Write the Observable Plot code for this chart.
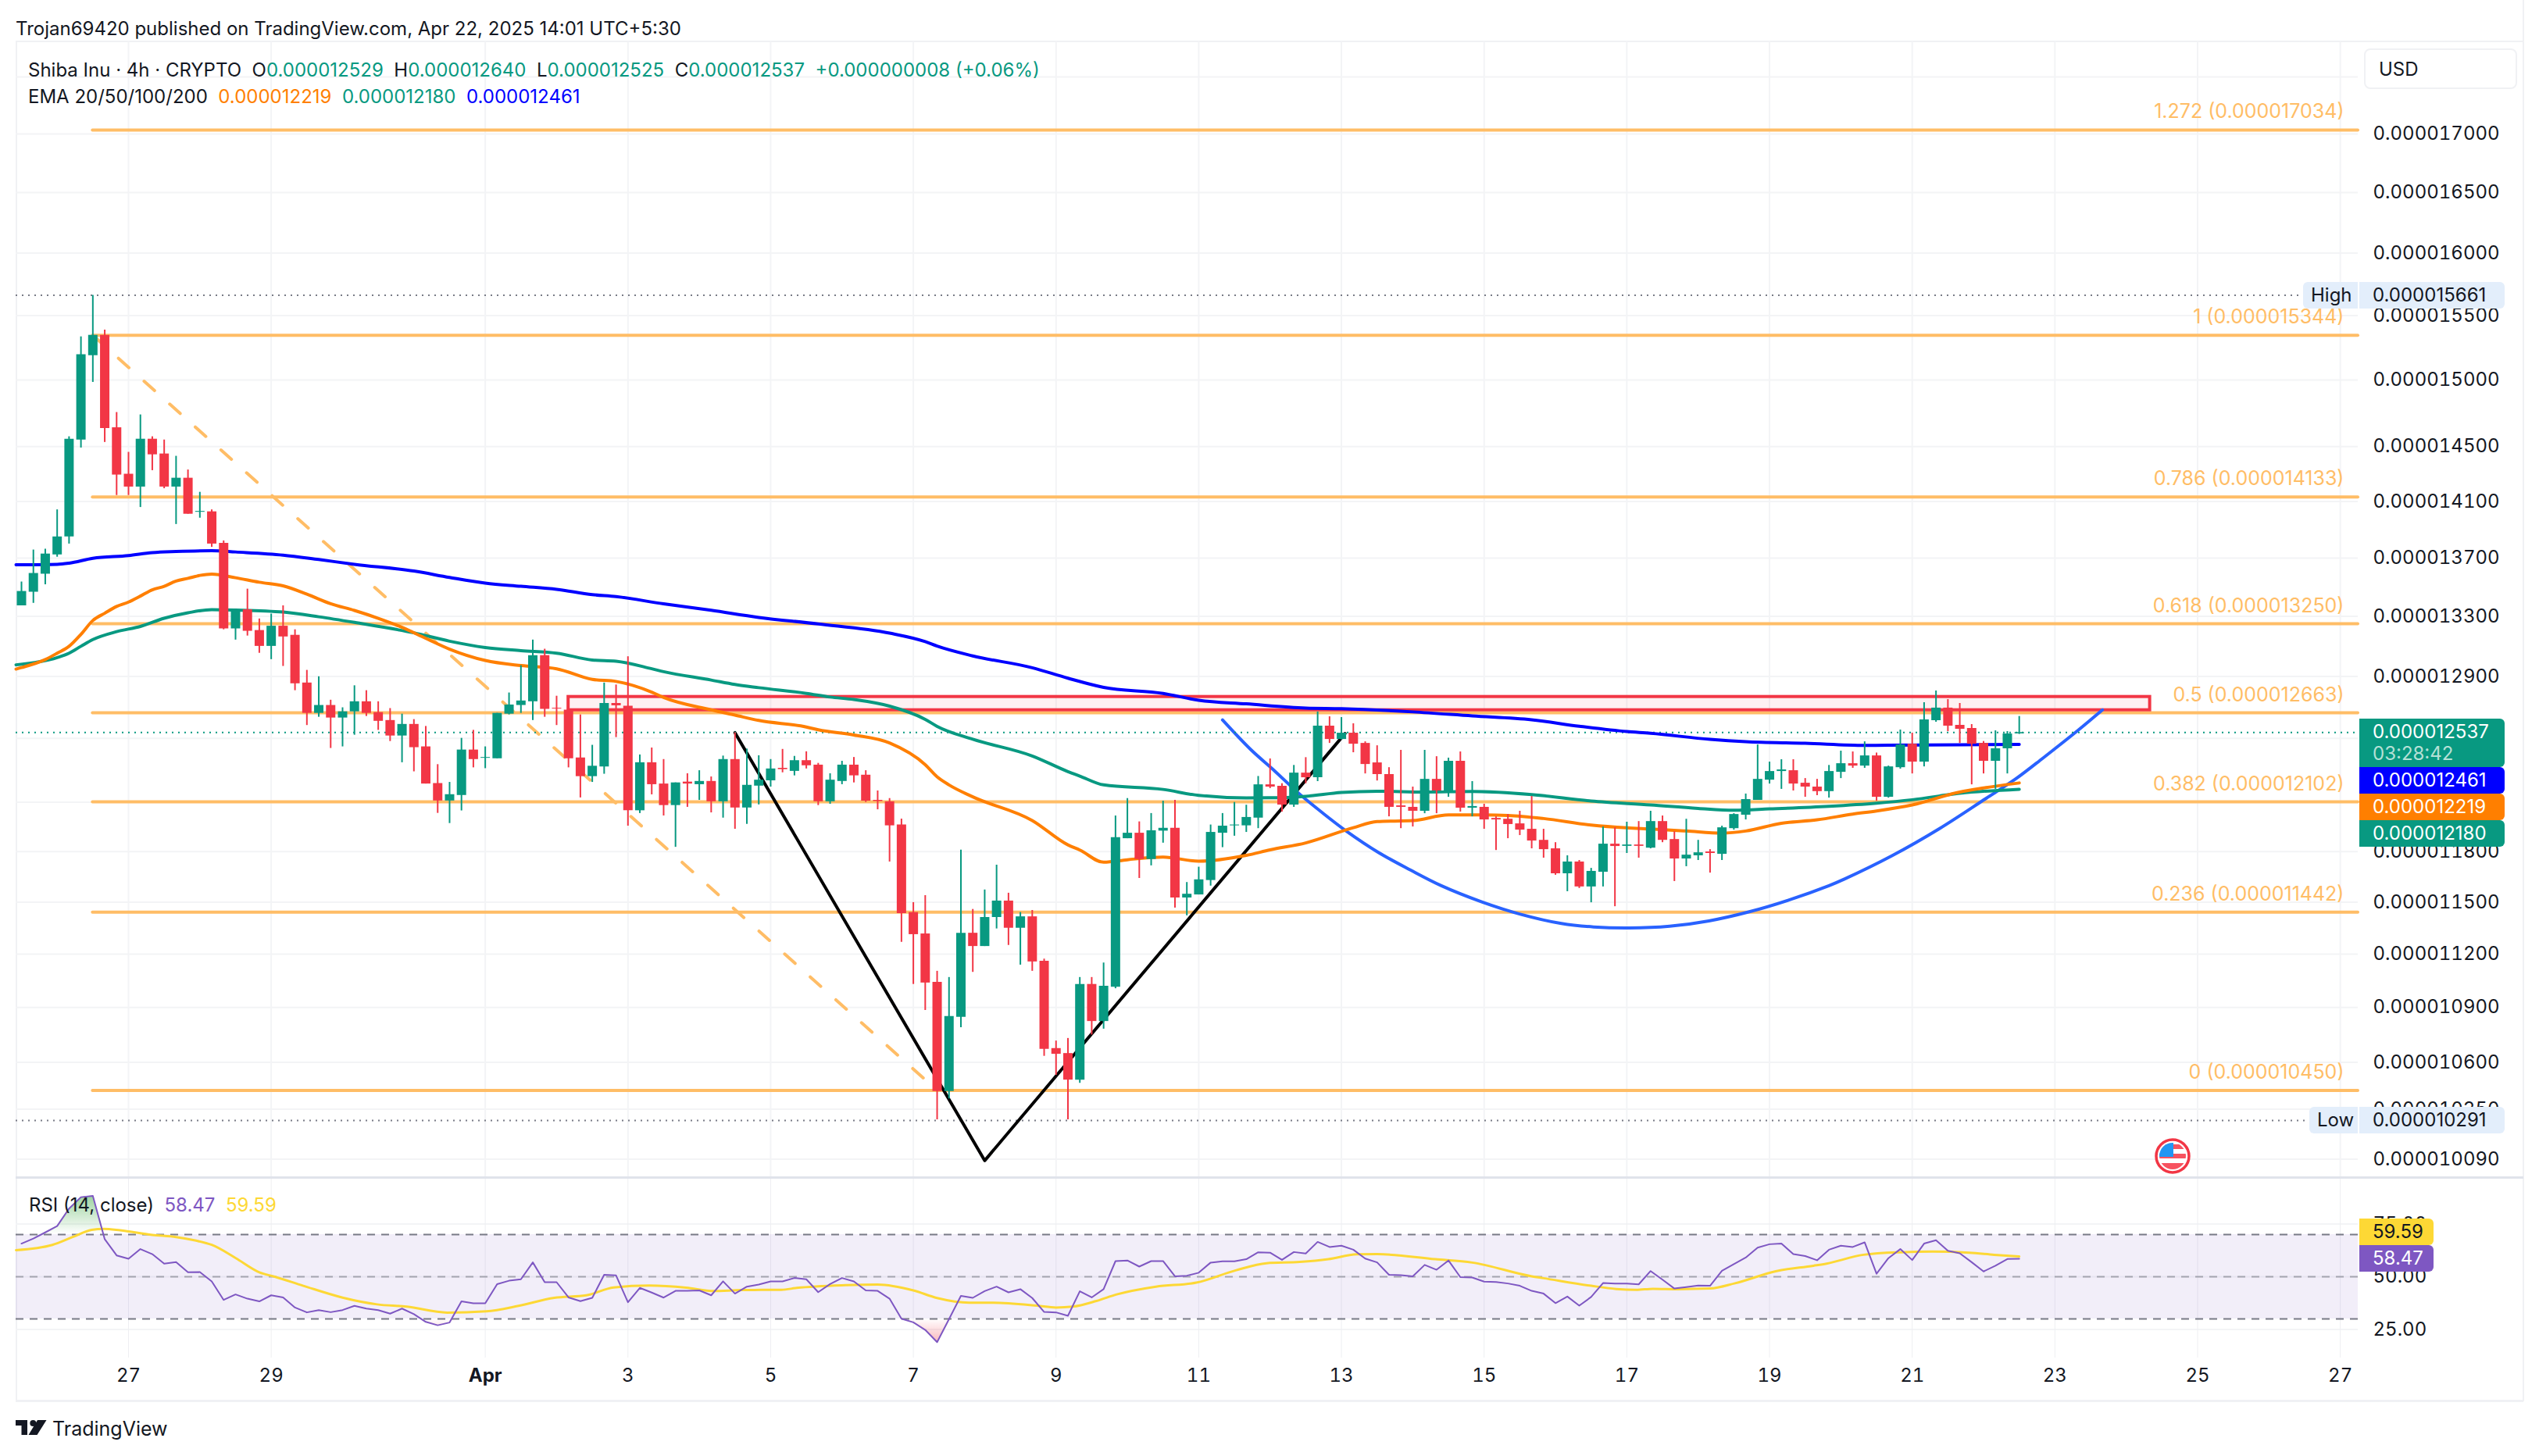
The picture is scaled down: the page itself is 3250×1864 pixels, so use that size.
<!DOCTYPE html>
<html>
<head>
<meta charset="utf-8">
<script src="https://cdn.jsdelivr.net/npm/d3@7"></script>
<script src="https://cdn.jsdelivr.net/npm/@observablehq/plot@0.6"></script>
<style>
  html, body { margin: 0; padding: 0; background: #fff; }
  #page { position: relative; width: 3250px; height: 1864px; overflow: hidden; font-family: Inter, sans-serif; color: #131722; }
  #page svg.plot-chart { position: absolute; left: 0; }
  .txt { position: absolute; font-size: 24px; line-height: 34px; white-space: pre; }
  .tag { position: absolute; font-size: 24px; white-space: pre; box-sizing: border-box; padding-left: 17px; }
  .edge { position: absolute; }
</style>
</head>
<body>
<div id="page"></div>
<script>
// prices are in units of 0.000000001 USD
const candleOpen = [13372,13465,13589,13723,13849,14549,15187,15345,14640,14298,14205,14555,14446,14205,14269,14024,14027,13804,13216,13345,13205,13099,13234,13173,12857,12660,12711,12630,12670,12735,12665,12614,12515,12589,12446,12216,12108,12142,12426,12374,12371,12655,12711,12735,13037,12693,12681,12376,12259,12319,12724,
  12706,12048,12346,12213,12080,12225,12209,12229,12103,12366,12065,12200,12233,12311,12292,12359,12331,12103,12229,12331,12268,12112,12103,11961,11440,11316,11041,10444,10846,11320,11244,11411,11507,11349,11415,11160,10675,10648,10505,11029,10823,11013,11878,11911,11753,11924,11941,11525,11543,11628,11911,11956,11956,
  12003,12208,12199,12083,12281,12252,12578,12493,12533,12468,12345,12272,12078,12069,12045,12242,12170,12355,12064,12069,12001,11996,11968,11935,11868,11817,11668,11738,11590,11677,11845,11832,11840,11821,11982,11873,11756,11775,11798,11784,11939,12021,12112,12237,12291,12296,12218,12194,12166,12286,12340,12325,12389,12131,12315,12463,12350,12613,12694,12583,12563,12468,12355,12434,12529];
const candleHigh = [13535,13757,13763,14041,14573,15333,15660,15386,14754,14458,14736,14573,14549,14429,14329,14167,14041,13821,13340,13486,13283,13316,13372,13210,12940,12898,12745,12696,12839,12807,12735,12691,12655,12620,12576,12334,12223,12500,12551,12446,12660,12792,12971,13141,13080,12771,12700,12650,12456,12857,12844,
  13030,12395,12439,12366,12220,12277,12296,12257,12388,12536,12432,12390,12366,12430,12386,12415,12342,12277,12355,12379,12296,12170,12123,11997,11498,11539,11103,11068,11809,11458,11572,11719,11553,11440,11452,11172,10716,10730,11068,11068,11150,12016,12123,11980,12031,12107,12112,11616,11707,11961,12031,12099,12082,
  12260,12370,12215,12329,12378,12669,12638,12633,12593,12478,12453,12315,12424,12194,12424,12384,12375,12414,12228,12088,12011,12025,12045,12136,11935,11854,11775,11747,11700,11949,11944,11978,11982,12045,12016,11920,11996,11868,11812,11954,12030,12151,12458,12350,12365,12365,12247,12242,12329,12419,12414,12478,12407,12325,12553,12533,12729,12805,12749,12724,12588,12480,12548,12543,12640];
const candleLow = [13372,13389,13516,13707,13799,14490,14982,14531,14144,14144,14058,14324,14193,13937,14010,13982,13776,13210,13141,13168,13053,13011,12966,12807,12582,12635,12436,12446,12520,12640,12551,12480,12346,12289,12213,12032,11970,12047,12314,12309,12371,12650,12660,12614,12635,12582,12314,12127,12223,12274,12505,
  11954,12031,12146,12016,11826,12069,12112,12035,12003,11935,11965,12084,12194,12283,12264,12307,12080,12088,12209,12220,12099,12054,11738,11268,11029,10884,10295,10405,10789,11097,11244,11345,11250,11138,11103,10633,10531,10295,10488,10749,10781,11005,11878,11640,11715,11851,11466,11421,11543,11595,11824,11893,11916,
  11939,12185,12040,12069,12215,12228,12468,12490,12409,12276,12232,12011,11939,11949,12030,12030,12131,12040,12011,11935,11807,11878,11897,11817,11761,11659,11562,11581,11497,11590,11474,11789,11761,11817,11854,11622,11710,11747,11672,11747,11930,11992,12112,12213,12180,12170,12131,12141,12126,12247,12311,12311,12107,12126,12306,12276,12320,12603,12543,12468,12208,12276,12180,12276,12525];
const candleClose = [13470,13594,13729,13849,14555,15194,15345,14634,14292,14205,14555,14440,14205,14269,14010,14030,13799,13216,13337,13200,13099,13234,13162,12852,12660,12711,12630,12670,12735,12660,12609,12515,12589,12441,12213,12108,12147,12426,12366,12379,12660,12714,12740,13037,12686,12688,12371,12259,12324,12724,12709,
  12048,12346,12209,12080,12220,12213,12229,12103,12366,12065,12205,12237,12307,12303,12359,12327,12103,12237,12331,12264,12107,12105,11956,11434,11312,11037,10444,10850,11320,11244,11411,11507,11349,11415,11156,10671,10644,10505,11029,10823,11019,11884,11911,11753,11926,11941,11525,11547,11632,11916,11954,11961,12007,
  12208,12194,12083,12281,12252,12578,12493,12533,12463,12335,12272,12069,12069,12045,12242,12170,12355,12064,12074,11992,11992,11964,11930,11864,11812,11668,11738,11590,11682,11845,11831,11840,11832,11982,11868,11756,11779,11793,11789,11944,12025,12117,12242,12291,12301,12213,12194,12166,12291,12340,12325,12389,12131,12320,12458,12350,12618,12694,12578,12558,12463,12355,12434,12528,12537];

const ema200Index = [-0.46,3,4,6,9,11,13,16,18,22,25,28,33,36,39,42,45,48,50,54,58,62,67,73,76,77,80,85,88,91,96,99,103,108,111,117,122,127,131,135,137,142,145,150,155,157,168];
const ema200Values = [13654,13657,13665,13699,13718,13738,13746,13752,13743,13721,13690,13657,13610,13566,13527,13505,13484,13448,13434,13385,13341,13293,13249,13187,13130,13100,13035,12957,12888,12828,12789,12744,12721,12694,12690,12669,12643,12618,12577,12543,12532,12493,12478,12468,12455,12456,12461];
const ema20Index = [-0.46,0,2,3,4,5,6,7,8,9,10,11,12,13,14,15,16,18,20,22,24,26,28,30,32,34,36,39,42,45,48,50,53,54,58,60,62,66,67,70,73,76,77,78,80,85,88,89,91,93,96,99,103,105,108,112,114,117,120,123,125,128,132,135,137,140,143,145,148,151,154,156,159,163,165,168];
const ema20Values = [12948,12958,13011,13053,13099,13179,13272,13321,13367,13397,13438,13481,13505,13541,13560,13580,13589,13564,13533,13508,13451,13386,13340,13287,13226,13152,13080,13005,12971,12950,12880,12867,12797,12762,12682,12648,12614,12572,12554,12521,12470,12333,12257,12207,12133,11988,11840,11809,11736,11751,11767,11742,11777,11810,11852,11944,11981,11987,12022,12022,12019,12000,11960,11943,11936,11924,11911,11924,11971,11992,12027,12046,12083,12163,12188,12219];
const ema50Index = [-0.46,3,4,5,6,8,10,12,14,16,18,22,25,28,33,36,39,42,45,48,50,53,54,58,60,62,66,68,70,73,76,77,80,85,88,89,91,96,99,103,106,108,111,114,118,122,127,132,137,141,144,147,152,156,159,163,168];
const ema50Values = [12976,13024,13053,13099,13144,13197,13232,13287,13324,13346,13343,13329,13297,13259,13189,13133,13091,13070,13053,13008,13000,12950,12931,12876,12847,12826,12789,12765,12749,12706,12621,12576,12494,12388,12290,12262,12207,12179,12142,12127,12128,12136,12160,12168,12163,12166,12147,12107,12083,12062,12051,12059,12075,12094,12115,12155,12180];

const fibRatios = ["1.272","1","0.786","0.618","0.5","0.382","0.236","0"];
const fibPrices = [17034,15344,14133,13250,12663,12102,11442,10450];

const rsiValues = [65.7,68.1,71.0,74.0,82.3,87.7,88.3,67.8,60.1,58.5,63.1,60.7,56.2,56.9,52.1,52.2,47.8,39.0,41.6,39.6,38.3,41.2,40.2,35.4,33.1,34.2,33.2,34.2,36.2,34.9,34.2,32.5,34.9,32.3,28.6,27.0,28.3,38.3,37.4,37.4,46.5,48.1,48.8,56.8,47.4,47.4,40.2,38.4,40.0,50.9,50.6,37.9,44.7,42.5,40.1,43.3,43.3,43.5,41.2,47.8,42.0,45.3,46.3,47.8,47.8,49.4,48.8,42.7,46.5,49.4,47.8,43.5,43.3,39.6,30.1,28.4,24.8,19.0,29.9,40.9,40.0,43.2,45.3,42.6,44.1,39.9,33.3,33.1,31.5,43.1,40.2,44.1,57.4,57.7,54.8,57.4,57.4,50.2,50.5,51.9,56.7,57.3,57.3,58.3,61.6,61.4,58.0,61.7,61.0,66.5,64.1,64.7,62.8,58.6,56.8,50.9,50.7,50.2,55.6,53.3,57.7,49.8,49.6,47.7,47.5,46.8,45.7,43.3,42.0,37.5,40.6,36.3,40.4,47.0,46.8,46.8,46.4,52.7,48.6,44.4,45.1,45.8,45.7,52.8,56.0,59.1,63.8,65.4,65.7,60.7,59.8,57.8,62.8,64.7,64.1,66.3,51.4,58.8,63.1,57.9,65.7,67.3,62.3,61.1,56.9,52.5,55.2,58.4,58.47];
const rsiMaIndex = [-0.46,2.6,4.3,5.9,6.9,8.3,11,13,14.6,16,18,20,21.3,23.7,27,29.9,32.4,35.8,39.1,41.8,44.8,47.5,49.8,52.8,55.9,58.2,60.6,63.9,65.2,69.3,72,75,77,79.7,81.7,85.4,87,88.4,90.4,92.1,95.4,98.8,102.1,104.7,107.5,109.9,112.3,114,118.9,122,127,128,132,134.1,135.8,137.2,139.3,142,144.1,147.6,150.7,151.8,154.9,158,160.7,163.8,165.9,168];
const rsiMaValues = [62.6,65.1,68.8,72.2,72.7,72.0,69.8,68.8,67.2,65.1,58.9,52.1,50.0,45.7,40.1,36.9,35.8,33.0,33.6,36.2,40.0,41.2,44.9,45.8,44.8,43.2,43.7,43.8,44.7,46.0,46.3,43.5,39.9,37.7,37.7,36.3,35.4,35.8,38.5,41.6,45.3,47.2,53.0,56.4,57.0,58.3,60.6,60.7,58.3,56.7,50.2,49.3,45.7,44.2,43.8,44.3,44.1,44.4,46.9,52.7,55.2,56.2,60.4,61.6,61.9,61.4,60.4,59.59];

// drawings on the chart
const vPatternIndex = [60,81,111.3];
const vPatternPrices = [12536,10083,12530];
const arcIndex = [101,103.35,105.4,107.4,109.4,111.4,114.1,116.8,119.4,122.8,126.1,129.5,132.2,135.2,138.6,141.9,145.3,148.6,152,153.3,157.3,161.3,165.2,167.7,170,172.9,175];
const arcPrices = [12617,12430,12293,12155,12035,11924,11795,11690,11597,11502,11429,11376,11356,11350,11360,11391,11444,11512,11597,11636,11775,11939,12123,12244,12375,12548,12682];
const fibTrendIndex = [6,77];
const fibTrendPrices = [15344,10450];
const zoneIndex = [46,179];
const zonePrices = [12680,12766];

const gridPrices = [17500,17000,16500,16000,15500,15000,14500,14100,13700,13300,12900,12500,12100,11800,11500,11200,10900,10600,10350,10090];
const priceTicks = [17000,16500,16000,15500,15000,14500,14100,13700,13300,12900,11800,11500,11200,10900,10600,10350,10090];
const dayTickDates = ["2025-03-27","2025-03-29","2025-04-01","2025-04-03","2025-04-05","2025-04-07","2025-04-09","2025-04-11","2025-04-13","2025-04-15","2025-04-17","2025-04-19","2025-04-21","2025-04-23","2025-04-25","2025-04-27"];
const dayTickLabels = ["27","29","Apr","3","5","7","9","11","13","15","17","19","21","23","25","27"];
const rsiTicks = [75,50,25];

const closePrice = 12537, highPrice = 15661, lowPrice = 10291;

const firstCandle = Date.UTC(2025, 2, 25, 12);
const candleTime = i => new Date(firstCandle + i * 4 * 3600 * 1000);
const xLeft = candleTime(-0.46), xRight = candleTime(196.5);
const xDomain = [xLeft, xRight];
const dayTicks = dayTickDates.map(d => new Date(d + "T00:00:00Z"));
const dayName = new Map(dayTicks.map((d, i) => [+d, dayTickLabels[i]]));

const green = "#089981", red = "#F23645", fibColor = "#FFBD66", gridColor = "#F3F4F6";
const nano = v => (v / 1e9).toFixed(9);
const zip = (index, values) => index.map((i, k) => ({time: candleTime(i), value: values[k]}));

const candles = candleOpen.map((o, i) => ({time: candleTime(i), open: o, high: candleHigh[i], low: candleLow[i], close: candleClose[i]}));
const upCandles = candles.filter(d => d.close >= d.open);
const downCandles = candles.filter(d => d.close < d.open);
const fibRows = fibRatios.map((r, i) => ({ratio: r, price: fibPrices[i]}));
const zone = [{x1: candleTime(zoneIndex[0]), x2: candleTime(zoneIndex[1]), y1: zonePrices[0], y2: zonePrices[1]}];

function candleMarks(rows, color) {
  return [
    Plot.ruleX(rows, {x: "time", y1: "low", y2: "high", stroke: color, strokeWidth: 2}),
    Plot.ruleX(rows, {x: "time", y1: "open", y2: "close", stroke: color, strokeWidth: 12})
  ];
}

const mainChart = Plot.plot({
  className: "plot-chart",
  width: 3250, height: 1454,
  marginLeft: 20, marginRight: 232, marginTop: 0, marginBottom: 0,
  style: {fontFamily: "Inter, sans-serif", fontSize: "24px", color: "#131722", background: "transparent"},
  x: {type: "utc", domain: xDomain, axis: null},
  y: {type: "log", domain: [9996.6, 17816], label: null, axis: null},
  marks: [
    Plot.gridY(gridPrices, {stroke: gridColor, strokeOpacity: 1, strokeWidth: 2}),
    Plot.gridX(dayTicks, {stroke: gridColor, strokeOpacity: 1, strokeWidth: 2}),
    Plot.axisY(priceTicks, {anchor: "right", tickSize: 0, tickPadding: 19, tickFormat: nano, label: null, textAnchor: "start", fill: "#131722"}),
    Plot.ruleY([highPrice, lowPrice], {stroke: "#787B86", strokeWidth: 2, strokeDasharray: "2 6"}),
    Plot.ruleY(fibRows, {y: "price", x1: candleTime(6), x2: xRight, stroke: fibColor, strokeWidth: 4, strokeLinecap: "round"}),
    Plot.text(fibRows, {x: () => xRight, y: "price", text: d => `${d.ratio} (${nano(d.price)})`, textAnchor: "end", dx: -18, dy: -23, fill: fibColor, fontSize: 25}),
    Plot.line(zip(fibTrendIndex, fibTrendPrices), {x: "time", y: "value", stroke: fibColor, strokeWidth: 4, strokeDasharray: "18 26"}),
    Plot.rect(zone, {x1: "x1", x2: "x2", y1: "y1", y2: "y2", fill: red, fillOpacity: 0.07, stroke: red, strokeWidth: 4}),
    Plot.line(zip(vPatternIndex, vPatternPrices), {x: "time", y: "value", stroke: "#000", strokeWidth: 4}),
    Plot.line(zip(arcIndex, arcPrices), {x: "time", y: "value", stroke: "#2962FF", strokeWidth: 4, curve: "catmull-rom"}),
    Plot.ruleY([closePrice], {stroke: green, strokeWidth: 2, strokeDasharray: "2 6"}),
    Plot.line(zip(ema200Index, ema200Values), {x: "time", y: "value", stroke: "#0000FF", strokeWidth: 4, curve: "monotone-x"}),
    Plot.line(zip(ema50Index, ema50Values), {x: "time", y: "value", stroke: green, strokeWidth: 4, curve: "monotone-x"}),
    Plot.line(zip(ema20Index, ema20Values), {x: "time", y: "value", stroke: "#FF7F00", strokeWidth: 4, curve: "monotone-x"}),
    ...candleMarks(upCandles, green),
    ...candleMarks(downCandles, red)
  ]
});
mainChart.style.top = "53px";

const rsiRows = rsiValues.map((v, i) => ({time: candleTime(i), value: v}));
const plainDays = dayTicks.filter(d => dayName.get(+d) !== "Apr");
const boldDays = dayTicks.filter(d => dayName.get(+d) === "Apr");

const rsiChart = Plot.plot({
  className: "plot-chart",
  width: 3250, height: 286,
  marginLeft: 20, marginRight: 232, marginTop: 0, marginBottom: 55,
  style: {fontFamily: "Inter, sans-serif", fontSize: "24px", color: "#131722", background: "transparent"},
  x: {type: "utc", domain: xDomain, axis: null},
  y: {domain: [11.5, 97], label: null, axis: null},
  marks: [
    Plot.gridY(rsiTicks, {stroke: gridColor, strokeOpacity: 1, strokeWidth: 2}),
    Plot.gridX(dayTicks, {stroke: "#EEEFF2", strokeOpacity: 1, strokeWidth: 1}),
    Plot.rect([{x1: xLeft, x2: xRight, y1: 30, y2: 70}], {x1: "x1", x2: "x2", y1: "y1", y2: "y2", fill: "#7E57C2", fillOpacity: 0.1}),
    Plot.ruleY([70, 30], {stroke: "#787B86", strokeWidth: 2, strokeDasharray: "10 8"}),
    Plot.ruleY([50], {stroke: "#787B86", strokeOpacity: 0.6, strokeWidth: 2, strokeDasharray: "10 8"}),
    Plot.areaY(rsiRows, {x: "time", y1: () => 70, y2: d => Math.max(d.value, 70), fill: "url(#rsiUp)"}),
    Plot.areaY(rsiRows, {x: "time", y1: () => 30, y2: d => Math.min(d.value, 30), fill: "url(#rsiDown)"}),
    Plot.line(zip(rsiMaIndex, rsiMaValues), {x: "time", y: "value", stroke: "#FDD835", strokeWidth: 3, curve: "monotone-x"}),
    Plot.line(rsiRows, {x: "time", y: "value", stroke: "#7E57C2", strokeWidth: 2}),
    Plot.axisY(rsiTicks, {anchor: "right", tickSize: 0, tickPadding: 19, tickFormat: d => d.toFixed(2), label: null, textAnchor: "start", fill: "#131722"}),
    Plot.axisX(plainDays, {anchor: "bottom", tickSize: 0, tickPadding: 13, label: null, tickFormat: d => dayName.get(+d), fill: "#131722"}),
    Plot.axisX(boldDays, {anchor: "bottom", tickSize: 0, tickPadding: 13, label: null, tickFormat: d => dayName.get(+d), fill: "#131722", fontWeight: 700})
  ]
});
rsiChart.style.top = "1507px";
rsiChart.insertAdjacentHTML("afterbegin", `<defs>
  <linearGradient id="rsiUp" x1="0" y1="0" x2="0" y2="1"><stop offset="0" stop-color="#4CAF50" stop-opacity="0.55"/><stop offset="1" stop-color="#4CAF50" stop-opacity="0"/></linearGradient>
  <linearGradient id="rsiDown" x1="0" y1="1" x2="0" y2="0"><stop offset="0" stop-color="#F23645" stop-opacity="0.35"/><stop offset="1" stop-color="#F23645" stop-opacity="0"/></linearGradient>
</defs>`);

const page = document.getElementById("page");

function edge(left, top, width, height, color) {
  const d = document.createElement("div");
  d.className = "edge";
  d.style.cssText = `left:${left}px;top:${top}px;width:${width}px;height:${height}px;background:${color}`;
  page.appendChild(d);
}
function txt(left, centerY, html, size) {
  const d = document.createElement("div");
  d.className = "txt";
  d.style.left = left + "px";
  d.style.top = (centerY - 17) + "px";
  if (size) d.style.fontSize = size + "px";
  d.innerHTML = html;
  page.appendChild(d);
}
function tag(left, top, width, height, bg, color, label, radius) {
  const d = document.createElement("div");
  d.className = "tag";
  d.style.cssText = `left:${left}px;top:${top}px;width:${width}px;height:${height}px;line-height:${height}px;background:${bg};color:${color};border-radius:${radius || "0 6px 6px 0"}`;
  d.textContent = label;
  page.appendChild(d);
}

edge(20, 52, 3210, 2, "#F0F1F4");
edge(20, 52, 2, 1742, "#F0F1F4");
edge(3229, 0, 2, 1794, "#F0F1F4");
edge(20, 1792, 3210, 3, "#F0F1F4");

page.appendChild(mainChart);
page.appendChild(rsiChart);
edge(20, 1506, 3210, 3, "#E0E3EB");

// header and legend
txt(20, 37, "Trojan69420 published on TradingView.com, Apr 22, 2025 14:01 UTC+5:30");
const g = s => `<span style="color:${green}">${s}</span>`;
txt(36, 90, `Shiba Inu · 4h · CRYPTO  O${g(nano(12529))}  H${g(nano(12640))}  L${g(nano(12525))}  C${g(nano(closePrice))}  ${g("+0.000000008 (+0.06%)")}`);
txt(36, 124, `EMA 20/50/100/200  <span style="color:#FF7F00">${nano(12219)}</span>  ${g(nano(12180))}  <span style="color:#0000FF">${nano(12461)}</span>`);
txt(37, 1543, `RSI (14, close)  <span style="color:#7E57C2">58.47</span>  <span style="color:#FDD835">59.59</span>`);

// price axis
const usd = document.createElement("div");
usd.className = "tag";
usd.style.cssText = "left:3026px;top:62px;width:196px;height:52px;line-height:50px;background:#fff;border:2px solid #F0F1F4;border-radius:8px;";
usd.textContent = "USD";
page.appendChild(usd);

tag(2948, 361, 70, 34, "#E3EEFB", "#131722", "High", "6px 0 0 6px");
page.lastChild.style.paddingLeft = "10px";
tag(3020, 361, 186, 34, "#E3EEFB", "#131722", nano(highPrice));
tag(2956, 1417, 62, 34, "#E3EEFB", "#131722", "Low", "6px 0 0 6px");
page.lastChild.style.paddingLeft = "10px";
tag(3020, 1417, 186, 34, "#E3EEFB", "#131722", nano(lowPrice));

tag(3020, 920, 186, 62, green, "#fff", "");
txt(3037, 937, `<span style="color:#fff">${nano(closePrice)}</span>`);
txt(3037, 965, `<span style="color:#B5E0D6">03:28:42</span>`);
tag(3020, 982, 186, 34, "#0000FF", "#fff", nano(12461));
tag(3020, 1016, 186, 34, "#FF7F00", "#fff", nano(12219));
tag(3020, 1050, 186, 34, green, "#fff", nano(12180));

tag(3020, 1560, 95, 34, "#FDD835", "#131722", "59.59");
tag(3020, 1594, 95, 34, "#7E57C2", "#fff", "58.47");

// economic event flag
page.insertAdjacentHTML("beforeend", `<svg style="position:absolute;left:2758px;top:1457px" width="46" height="46" viewBox="0 0 46 46">
  <defs><clipPath id="flagClip"><circle cx="23" cy="23" r="17"/></clipPath></defs>
  <circle cx="23" cy="23" r="21" fill="#fff" stroke="${red}" stroke-width="3.5"/>
  <g clip-path="url(#flagClip)">
    <rect x="0" y="0" width="46" height="46" fill="#fff"/>
    <rect x="0" y="8" width="46" height="6" fill="#F7525F"/><rect x="0" y="20" width="46" height="6" fill="#F7525F"/><rect x="0" y="32" width="46" height="10" fill="#F7525F"/>
    <rect x="0" y="0" width="24" height="24" fill="#2196F3"/>
  </g>
</svg>`);

// footer logo
page.insertAdjacentHTML("beforeend", `<svg style="position:absolute;left:20px;top:1818px" width="40" height="19" viewBox="0 0 40 19">
  <path d="M0 0H15V19H7.5V7H0Z M28 0H39.5L27.5 19H16.5Z" fill="#131722"/><circle cx="22.3" cy="4" r="4" fill="#131722"/>
</svg>`);
txt(67, 1829, "TradingView", 25);
</script>
</body>
</html>
